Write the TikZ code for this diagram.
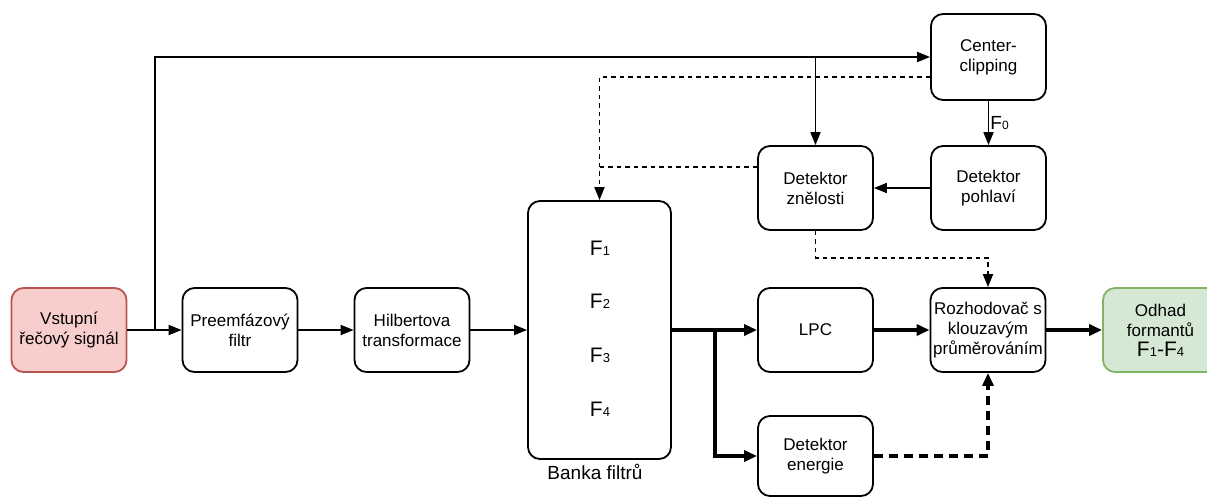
\documentclass[tikz,border=0pt]{standalone}
\usepackage{fontspec}
\setmainfont{Liberation Sans}
\usetikzlibrary{arrows.meta}
\definecolor{pinkfill}{HTML}{F8CECC}
\definecolor{pinkdraw}{HTML}{B85450}
\definecolor{greenfill}{HTML}{D5E8D4}
\definecolor{greendraw}{HTML}{82B366}
\newcommand{\smdig}[1]{{\fontsize{13}{13}\selectfont #1}}
\tikzset{
  blk/.style={draw, rounded corners=12pt, line width=1.8pt, minimum width=115pt, minimum height=84pt, align=center, inner sep=1pt, font=\fontsize{17}{20}\selectfont},
  conn/.style={line width=1.8pt, -{Triangle[length=13pt,width=10pt]}},
  dconn/.style={line width=1.8pt, dash pattern=on 4.5pt off 4pt, -{Triangle[length=13pt,width=10pt]}},
  dplain/.style={line width=1.8pt, dash pattern=on 4.5pt off 4pt},
  tconn/.style={line width=3.3pt, -{Triangle[length=13pt,width=11pt]}},
  tdconn/.style={line width=3.3pt, dash pattern=on 9pt off 6pt, -{Triangle[length=13pt,width=11pt]}},
  flab/.style={font=\fontsize{21}{24}\selectfont}
}
\begin{document}
\begin{tikzpicture}[x=1pt,y=-1pt]
\useasboundingbox (0,0) rectangle (1207,499);
\node[blk, fill=pinkfill, draw=pinkdraw] (vst) at (69,330) {Vstupní\\řečový signál};
\node[blk] (pre) at (240,330) {Preemfázový\\filtr};
\node[blk] (hil) at (412,330) {Hilbertova\\transformace};
\node[blk, minimum width=143pt, minimum height=258pt] (bank) at (599.5,330) {};
\node[flab] (f1) at (600,248) {F\smdig{1}};
\node[flab] (f2) at (600,301) {F\smdig{2}};
\node[flab] (f3) at (600,355) {F\smdig{3}};
\node[flab] (f4) at (600,409) {F\smdig{4}};
\node[font=\fontsize{19}{22}\selectfont] (bl) at (595,472) {Banka filtrů};
\node[blk] (lpc) at (815.5,330) {LPC};
\node[blk, minimum height=80pt] (de) at (815.5,456) {Detektor\\energie};
\node[blk] (rz) at (988,330) {Rozhodovač s\\klouzavým\\průměrováním};
\node[blk, fill=greenfill, draw=greendraw] (od) at (1160.5,330) {Odhad\\formantů\\{\fontsize{21}{24}\selectfont F\smdig{1}-F\smdig{4}}};
\node[blk, minimum height=86pt] (cc) at (988.5,57) {Center-\\clipping};
\node[blk] (dz) at (815.5,188) {Detektor\\znělosti};
\node[blk] (dp) at (988.5,188) {Detektor\\pohlaví};

\coordinate (b1) at (155,330);
\coordinate (b2) at (815.5,57);
\coordinate (b3) at (715,330);

\draw[conn] (vst.east) -- (pre.west);
\draw[conn] (b1) |- (cc.west);
\draw[conn] (b2) -- (dz.north);
\draw[conn] (cc.south) -- node[right, font=\fontsize{19}{22}\selectfont, inner sep=1pt] (f0) {F{\fontsize{12}{12}\selectfont 0}} (dp.north);
\draw[conn] (dp.west) -- (dz.east);
\draw[dconn] ([yshift=-20pt]cc.west) -| (bank.north);
\draw[dplain] ([yshift=21pt]dz.west) -- ([yshift=21pt]dz.west -| bank.north);
\draw[dconn] (dz.south) -- ([yshift=-27pt]dz.south) -| (rz.north);
\draw[conn] (pre.east) -- (hil.west);
\draw[conn] (hil.east) -- (bank.west);
\draw[tconn] (bank.east) -- (lpc.west);
\draw[tconn] (b3) |- (de.west);
\draw[tconn] (lpc.east) -- (rz.west);
\draw[tconn] (rz.east) -- (od.west);
\draw[tdconn] (de.east) -| (rz.south);
\end{tikzpicture}
\end{document}
